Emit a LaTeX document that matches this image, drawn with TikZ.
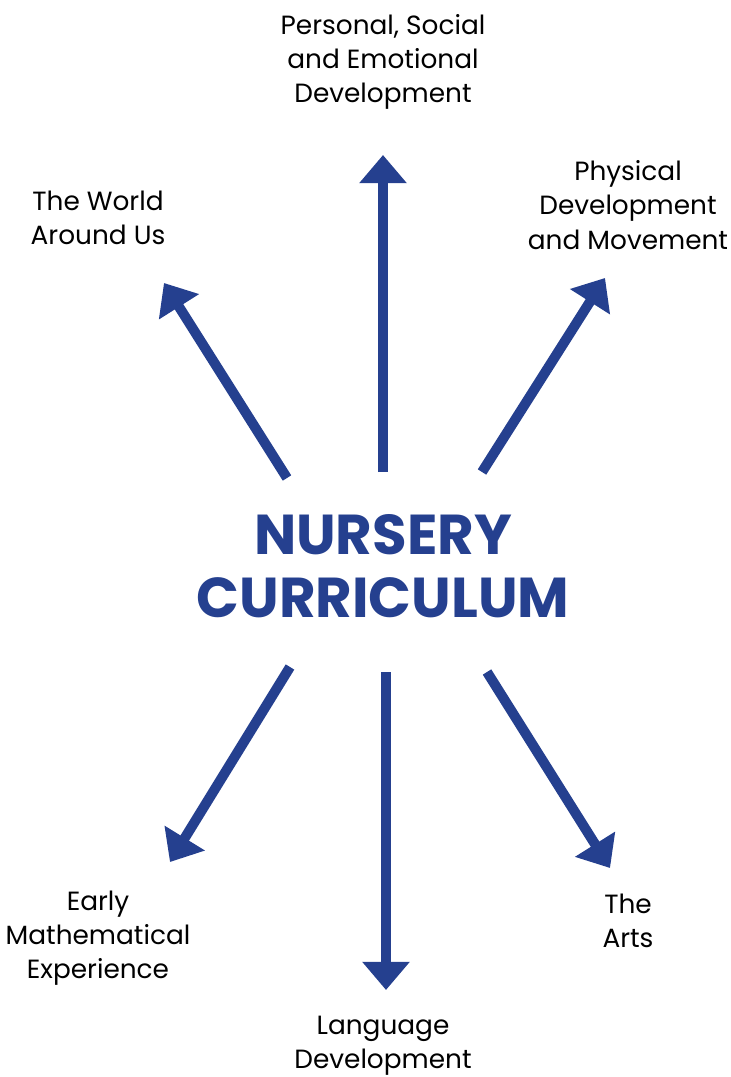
\documentclass[tikz,border=0pt]{standalone}
\usepackage{fontspec}
\setmainfont{Poppins}
\usetikzlibrary{arrows.meta}
\definecolor{navy}{RGB}{37,64,143}
\tikzset{
	branch/.style={line width=5.7pt, color=navy, -{Triangle[width=26pt, length=16pt]}},
	topic/.style={align=center, font=\fontsize{15}{19.5}\selectfont, text=black},
	title/.style={align=center, font=\fontsize{32}{36}\selectfont\bfseries, text=navy}
}

\begin{document}
\begin{tikzpicture}[x=0.02cm, y=-0.02cm]
		%%%%% START %%%%%
		\useasboundingbox (0, 0) rectangle (730, 1077);
		
		\node[title] (nc) at (383, 566) {NURSERY\\CURRICULUM};
		
		\node[topic] (pse) at (383, 62) {Personal, Social\\and Emotional\\Development};
		\node[topic] (phys) at (628, 205) {Physical\\Development\\and Movement};
		\node[topic] (world) at (98, 218) {The World\\Around Us};
		\node[topic] (math) at (98, 938) {Early\\Mathematical\\Experience};
		\node[topic] (arts) at (628, 921) {The\\Arts};
		\node[topic] (lang) at (383, 1046) {Language\\Development};
		
		\coordinate (pseA) at (383, 472);   \coordinate (pseB) at (383, 155);
		\coordinate (worldA) at (287, 478); \coordinate (worldB) at (164, 283);
		\coordinate (physA) at (482, 472);  \coordinate (physB) at (605, 278);
		\coordinate (mathA) at (290, 667);  \coordinate (mathB) at (170, 862);
		\coordinate (langA) at (386, 672);  \coordinate (langB) at (386, 990);
		\coordinate (artsA) at (487, 672);  \coordinate (artsB) at (610, 868);
		
		\draw[branch] (pseA) -- (pseB);
		\draw[branch] (worldA) -- (worldB);
		\draw[branch] (physA) -- (physB);
		\draw[branch] (mathA) -- (mathB);
		\draw[branch] (langA) -- (langB);
		\draw[branch] (artsA) -- (artsB);
		%%%%% END %%%%%
\end{tikzpicture}
\end{document}
